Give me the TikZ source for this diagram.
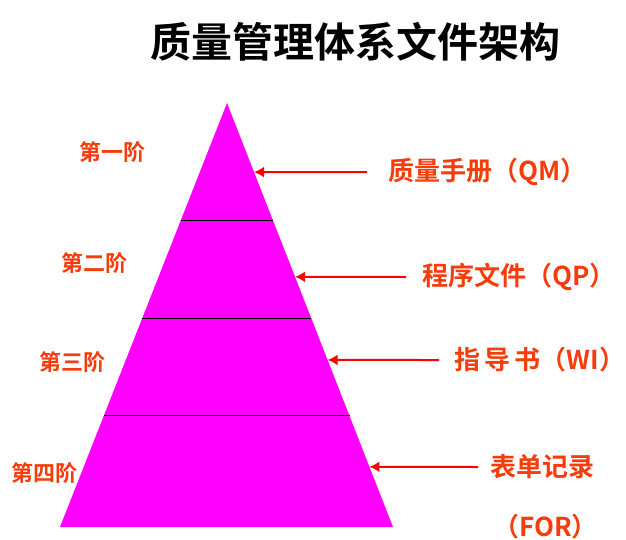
\documentclass[tikz,border=0pt]{standalone}
\usepackage{fontspec}
\newfontfamily\cjk{Noto Sans CJK SC}[BoldFont={Noto Sans CJK SC Bold}]
\usetikzlibrary{arrows.meta, calc}
\definecolor{labelred}{RGB}{245,60,10}
\definecolor{pyramid}{RGB}{255,0,255}

\begin{document}
\begin{tikzpicture}[x=1pt, y=-1pt]
    \tikzstyle{every node} = [inner sep=0pt, font=\cjk\bfseries]
    \tikzstyle{stage} = [labelred, font=\cjk\bfseries\fontsize{22}{22}\selectfont]
    \tikzstyle{doc} = [labelred, anchor=west, font=\cjk\bfseries\fontsize{26}{26}\selectfont]
    \tikzstyle{pointer} = [red, line width=2pt, -{Latex[length=10pt, width=11pt]}]
    \useasboundingbox (0, 0) rectangle (626, 539);

    \node (title) at (355, 42) {\fontsize{41}{41}\selectfont 质量管理体系文件架构};

    % pyramid
    \coordinate (apex) at (227, 103);
    \coordinate (bl) at (60, 527);
    \coordinate (br) at (393, 527);
    \fill [pyramid] (apex) -- (bl) -- (br) -- cycle;
    \foreach \f in {0.278, 0.509, 0.738}
      \draw [line width=1pt] ($(apex)!\f!(bl)$) -- ($(apex)!\f!(br)$);

    % stages on the left
    \node [stage] (s1) at (112, 152) {第一阶};
    \node [stage] (s2) at (94, 263) {第二阶};
    \node [stage] (s3) at (72, 362) {第三阶};
    \node [stage] (s4) at (44, 473) {第四阶};

    % documents on the right
    \node [doc] (qm) at (388, 172) {质量手册（QM）};
    \node [doc] (qp) at (422, 277) {程序文件（QP）};
    \node [doc] (wi) at (454, 360) {指\,导\,书（WI）};
    \node [doc] (rec) at (490, 467) {表单记录};
    \node [doc] (for) at (493, 527) {（FOR）};

    \coordinate (t1) at ($(apex)!0.163!(br)$);
    \coordinate (t2) at ($(apex)!0.410!(br)$);
    \coordinate (t3) at ($(apex)!0.606!(br)$);
    \coordinate (t4) at ($(apex)!0.858!(br)$);
    \draw [pointer] ([xshift=-21]qm.west) -- (t1);
    \draw [pointer] ([xshift=-16]qp.west) -- (t2);
    \draw [pointer] ([xshift=-15]wi.west) -- (t3);
    \draw [pointer] ([xshift=-12]rec.west) -- (t4);
  \end{tikzpicture}
\end{document}
